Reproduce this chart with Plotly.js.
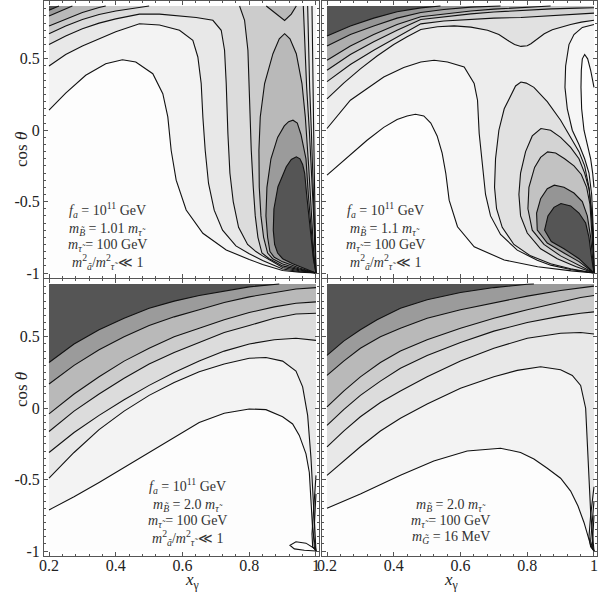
<!DOCTYPE html>
<html>
<head>
<meta charset="utf-8">
<script src="https://cdn.plot.ly/plotly-3.0.1.min.js"></script>
<style>
  html, body { margin: 0; padding: 0; background: #fff; }
  #myDiv { width: 599px; height: 592px; }
</style>
</head>
<body>
<div id="myDiv"></div>
<script>
// ---------------- plot window (x_gamma, cos theta) ----------------
var X0 = 0.2, X1 = 1.0, Y0 = -1.0, Y1 = 0.87;

// contour shading, lowest level first
var shades  = ['#fdfdfd', '#f3f3f3', '#e8e8e8', '#dcdcdc', '#cccccc', '#b9b9b9', '#9b9b9b', '#555555'];
var shades2 = ['#fdfdfd', '#f6f6f6', '#ededed', '#e1e1e1', '#d3d3d3', '#c2c2c2', '#aeaeae', '#959595', '#555555'];

var xTickVals = [0.2, 0.4, 0.6, 0.8, 1];
var xTickText = ['0.2', '0.4', '0.6', '0.8', '1'];
var yTickVals = [-1, -0.5, 0, 0.5];
var yTickText = ['-1', '-0.5', '0', '0.5'];

// ---------------- top left : mB = 1.01 mstau ----------------
var p1Ax = [0.2,0.25,0.31,0.37,0.42,0.46,0.511,0.541,0.556,0.566,0.581,0.611,0.661,0.731,0.8,0.84,0.9,0.95,1];
var p1Ay = [0.14,0.26,0.385,0.466,0.494,0.478,0.396,0.256,0.093,-0.14,-0.35,-0.559,-0.722,-0.839,-0.905,-0.94,-0.982,-0.994,-1];
var p1Bx = [0.2,0.25,0.3,0.35,0.4,0.471,0.531,0.591,0.631,0.646,0.656,0.661,0.668,0.678,0.695,0.72,0.76,0.8,0.84,0.9,0.95,1];
var p1By = [0.45,0.53,0.59,0.64,0.69,0.746,0.737,0.70,0.63,0.513,0.327,0.093,-0.14,-0.373,-0.56,-0.7,-0.81,-0.865,-0.912,-0.972,-0.989,-1];
var p1Cx = [0.2,0.25,0.3,0.35,0.4,0.471,0.531,0.591,0.641,0.691,0.716,0.726,0.731,0.736,0.742,0.752,0.768,0.795,0.82,0.84,0.9,0.95,1];
var p1Cy = [0.6,0.66,0.71,0.75,0.78,0.813,0.813,0.80,0.79,0.77,0.70,0.56,0.327,-0.023,-0.3,-0.5,-0.68,-0.8,-0.85,-0.88,-0.962,-0.984,-1];
var p1DLx = [0.2,0.25,0.3,0.35,0.4,0.45,0.5];
var p1DLy = [0.676,0.73,0.775,0.81,0.835,0.855,0.87];
var p1DRx = [0.771,0.786,0.796,0.801,0.806,0.812,0.818,0.826,0.838,0.86,0.9,0.95,1];
var p1DRy = [0.87,0.77,0.56,0.21,-0.14,-0.4,-0.6,-0.75,-0.86,-0.9,-0.95,-0.978,-1];
var p1ELx = [0.2,0.25,0.3,0.35,0.37];
var p1ELy = [0.73,0.78,0.825,0.86,0.87];
var p1Vx = [0.851,0.881,0.906,0.926,0.941];
var p1Vy = [0.87,0.813,0.769,0.813,0.87];
var p1Lensx = [1,0.95,0.9,0.87,0.855,0.843,0.835,0.83,0.829,0.833,0.846,0.871,0.89,0.906,0.922,0.941,0.958,0.968,0.978,0.987,0.993,1];
var p1Lensy = [-1,-0.972,-0.937,-0.9,-0.86,-0.75,-0.6,-0.4,-0.14,0.093,0.327,0.536,0.64,0.676,0.64,0.536,0.327,0.093,-0.25,-0.6,-0.85,-1];
var p1FLx = [0.2,0.23,0.27];
var p1FLy = [0.8,0.83,0.87];
var p1Fbx = [1,0.95,0.9,0.875,0.862,0.855,0.85,0.853,0.865,0.885,0.905,0.918,0.931,0.944,0.955,0.97,0.977,0.985,0.993,1];
var p1Fby = [-1,-0.965,-0.922,-0.89,-0.85,-0.75,-0.6,-0.4,-0.2,-0.05,0.03,0.06,0.07,0.05,-0.03,-0.2,-0.45,-0.7,-0.9,-1];
var p1GLx = [0.2,0.215,0.23];
var p1GLy = [0.84,0.855,0.87];
var p1Gbx = [1,0.95,0.93,0.9,0.885,0.876,0.872,0.874,0.886,0.911,0.926,0.941,0.952,0.96,0.966,0.972,0.978,0.985,0.992,1];
var p1Gby = [-1,-0.955,-0.935,-0.9,-0.86,-0.8,-0.7,-0.55,-0.396,-0.256,-0.205,-0.186,-0.2,-0.24,-0.3,-0.45,-0.6,-0.75,-0.9,-1];
var p1Ny  = [0.87,0.6,0.3,0.0,-0.3,-0.6,-0.85,-1];
var p1N1x = [0.962,0.966,0.972,0.98,0.987,0.993,0.997,1];
var p1N2x = [0.975,0.977,0.981,0.986,0.991,0.995,0.998,1];
var p1N3x = [0.988,0.989,0.991,0.993,0.995,0.997,0.999,1];

// ---------------- top right : mB = 1.1 mstau ----------------
var p2Ax = [0.2,0.26,0.32,0.37,0.41,0.44,0.465,0.49,0.511,0.53,0.545,0.556,0.566,0.591,0.641,0.731,0.831,0.932,1];
var p2Ay = [-0.315,-0.19,-0.07,0.02,0.075,0.1,0.112,0.1,0.05,-0.04,-0.16,-0.303,-0.49,-0.676,-0.816,-0.909,-0.956,-0.985,-1];
var p2Bx = [0.2,0.27,0.37,0.43,0.481,0.521,0.561,0.611,0.641,0.651,0.656,0.666,0.675,0.69,0.72,0.77,0.83,0.87,0.93,1];
var p2By = [0.012,0.21,0.373,0.44,0.478,0.49,0.478,0.443,0.327,0.21,-0.023,-0.257,-0.45,-0.6,-0.73,-0.84,-0.91,-0.945,-0.975,-1];
var p2Cx = [0.2,0.25,0.3,0.35,0.4,0.44,0.481,0.531,0.581,0.631,0.681,0.715,0.741,0.762,0.781,0.8,0.811,0.83,0.851,0.875,0.901,0.93,0.962,1];
var p2Cy = [0.22,0.33,0.43,0.52,0.6,0.655,0.705,0.725,0.731,0.722,0.70,0.67,0.63,0.6,0.587,0.592,0.606,0.64,0.676,0.703,0.722,0.74,0.757,0.77];
var p2Tx = [0.2,0.27,0.34,0.41,0.481,0.55,0.631,0.7,0.781,0.85,0.92,1];
var p2Dy = [0.34,0.46,0.56,0.65,0.745,0.765,0.778,0.785,0.79,0.8,0.81,0.82];
var p2Ex = [0.2,0.27,0.34,0.41,0.481,0.55,0.631,0.7,0.781,0.872,0.95,1];
var p2Ey = [0.42,0.53,0.62,0.70,0.775,0.795,0.815,0.828,0.839,0.85,0.855,0.858];
var p2Fx = [0.2,0.27,0.34,0.41,0.481,0.55,0.631,0.7,0.781,0.87];
var p2Fy = [0.49,0.59,0.67,0.74,0.795,0.815,0.835,0.848,0.86,0.87];
var p2Gx = [0.2,0.27,0.34,0.41,0.481,0.55,0.631,0.72];
var p2Gy = [0.59,0.67,0.73,0.785,0.825,0.845,0.862,0.87];
var p2Hx = [0.2,0.27,0.34,0.41,0.481,0.54];
var p2Hy = [0.66,0.73,0.785,0.83,0.857,0.87];
var p2Ox = [1,0.965,0.94,0.925,0.915,0.913,0.92,0.935,0.955,0.972,0.985,0.993,0.998,1];
var p2Oy = [0.74,0.72,0.67,0.6,0.45,0.3,0.15,0.0,-0.1,-0.2,-0.3,-0.45,-0.7,-1];
var p2Ix = [1,0.99,0.981,0.972,0.965,0.962,0.961,0.963,0.97,0.98,0.99,0.996,1];
var p2Iy = [0.3,0.42,0.5,0.53,0.5,0.42,0.3,0.15,0.0,-0.1,-0.2,-0.3,-0.4];
var p2K1x = [1,0.93,0.87,0.81,0.76,0.725,0.708,0.702,0.705,0.715,0.731,0.751,0.765,0.781,0.797,0.82,0.86,0.9,0.93,0.955,0.972,0.985,0.993,0.998,1];
var p2K1y = [-1,-0.97,-0.935,-0.88,-0.8,-0.68,-0.55,-0.4,-0.2,0.0,0.15,0.25,0.31,0.338,0.33,0.3,0.2,0.07,-0.05,-0.15,-0.25,-0.4,-0.6,-0.8,-1];
var p2K2x = [1,0.945,0.89,0.84,0.8,0.78,0.775,0.78,0.795,0.815,0.841,0.87,0.9,0.93,0.955,0.972,0.986,0.994,0.998,1];
var p2K2y = [-1,-0.955,-0.9,-0.83,-0.72,-0.6,-0.45,-0.3,-0.15,-0.04,0.012,0.0,-0.05,-0.12,-0.2,-0.3,-0.42,-0.6,-0.8,-1];
var p2K3x = [1,0.95,0.9,0.85,0.815,0.802,0.805,0.822,0.84,0.861,0.885,0.912,0.94,0.962,0.978,0.988,0.994,0.998,1];
var p2K3y = [-1,-0.94,-0.88,-0.8,-0.7,-0.55,-0.4,-0.26,-0.19,-0.152,-0.16,-0.2,-0.25,-0.31,-0.4,-0.52,-0.7,-0.88,-1];
var p2K4x = [1,0.955,0.91,0.86,0.83,0.828,0.84,0.86,0.881,0.91,0.94,0.965,0.98,0.99,0.996,1];
var p2K4y = [-1,-0.92,-0.86,-0.79,-0.7,-0.58,-0.48,-0.41,-0.385,-0.4,-0.44,-0.5,-0.6,-0.75,-0.9,-1];
var p2K5x = [1,0.955,0.91,0.872,0.852,0.862,0.88,0.901,0.93,0.955,0.975,0.985,0.992,1];
var p2K5y = [-1,-0.9,-0.83,-0.78,-0.7,-0.6,-0.54,-0.513,-0.53,-0.58,-0.65,-0.75,-0.88,-1];

// ---------------- bottom left : mB = 2.0 mstau ----------------
var p3x  = [0.2,0.275,0.35,0.425,0.5,0.575,0.65,0.725,0.8,0.875,0.94,1];
var p3Ax = [0.2,0.275,0.35,0.425,0.5,0.575,0.65,0.725,0.8,0.85,0.9,0.93,0.95,0.97,0.98,0.985,0.99,1];
var p3Ay = [-0.712,-0.62,-0.52,-0.415,-0.31,-0.2,-0.1,-0.035,-0.005,-0.01,-0.06,-0.11,-0.19,-0.32,-0.45,-0.65,-0.85,-1];
var p3Bx = [0.2,0.275,0.35,0.425,0.5,0.575,0.65,0.725,0.8,0.85,0.9,0.94,0.96,0.975,0.985,0.992,1];
var p3By = [-0.49,-0.31,-0.15,-0.02,0.09,0.18,0.255,0.31,0.35,0.355,0.33,0.26,0.15,-0.05,-0.35,-0.7,-1];
var p3Cy = [-0.31,-0.17,-0.05,0.06,0.16,0.25,0.33,0.4,0.45,0.48,0.49,0.475];
var p3Dy = [-0.163,-0.02,0.1,0.21,0.31,0.39,0.46,0.53,0.58,0.63,0.66,0.665];
var p3Ey = [-0.04,0.1,0.22,0.33,0.42,0.5,0.56,0.62,0.67,0.71,0.735,0.745];
var p3Fy = [0.17,0.3,0.41,0.5,0.58,0.64,0.69,0.74,0.78,0.81,0.835,0.845];
var p3Gx = [0.2,0.275,0.35,0.425,0.5,0.575,0.65,0.725,0.8,0.89];
var p3Gy = [0.32,0.45,0.55,0.63,0.7,0.75,0.79,0.82,0.85,0.87];
var p3Loopx = [1,0.97,0.94,0.922,0.935,0.965,1];
var p3Loopy = [-0.99,-0.945,-0.935,-0.96,-0.985,-0.995,-1];
var p3Fan1x = [1,0.993,0.988,0.99,1];
var p3Fan1y = [-0.47,-0.7,-0.88,-0.97,-1];
var p3Fan2x = [1,0.996,0.993,0.995,1];
var p3Fan2y = [-0.6,-0.78,-0.9,-0.97,-1];

// ---------------- bottom right : gravitino, mG = 16 MeV ----------------
var p4x  = [0.2,0.25,0.3,0.36,0.42,0.5,0.6,0.7,0.8,0.9,0.96,1];
var p4Ax = [0.2,0.3,0.42,0.52,0.62,0.72,0.78,0.82,0.86,0.9,0.93,0.952,0.97,0.982,0.99,1];
var p4Ay = [-0.7,-0.6,-0.47,-0.37,-0.3,-0.28,-0.31,-0.356,-0.42,-0.49,-0.58,-0.685,-0.8,-0.9,-0.96,-1];
var p4Bx = [0.2,0.25,0.3,0.36,0.42,0.5,0.6,0.7,0.77,0.84,0.9,0.935,0.96,0.975,0.982,0.99,1];
var p4By = [-0.47,-0.37,-0.27,-0.16,-0.07,0.03,0.14,0.22,0.265,0.29,0.27,0.23,0.16,0.0,-0.38,-0.73,-1];
var p4Cy = [-0.27,-0.16,-0.06,0.04,0.12,0.22,0.33,0.42,0.49,0.525,0.53,0.52];
var p4Dy = [-0.12,-0.01,0.09,0.19,0.28,0.37,0.46,0.54,0.6,0.645,0.665,0.675];
var p4Ey = [0.01,0.12,0.22,0.32,0.4,0.48,0.56,0.63,0.69,0.745,0.775,0.79];
var p4Fy = [0.23,0.33,0.42,0.5,0.56,0.63,0.69,0.74,0.785,0.825,0.845,0.855];
var p4Gx = [0.2,0.25,0.3,0.35,0.42,0.5,0.6,0.7,0.8,0.82];
var p4Gy = [0.37,0.47,0.55,0.62,0.70,0.76,0.81,0.845,0.868,0.87];
var p4Fan1x = [1,0.99,0.985,0.99,1];
var p4Fan1y = [-0.55,-0.75,-0.9,-0.97,-1];
var p4Fan2x = [1,0.994,0.99,0.995,1];
var p4Fan2y = [-0.65,-0.82,-0.93,-0.98,-1];
var p4Fan3x = [1,0.997,0.995,1];
var p4Fan3y = [-0.75,-0.88,-0.96,-1];

// ---------------- parameter labels ----------------
var txt1 = ['<i>f<sub>a</sub></i> = 10<sup>11</sup> GeV', '<i>m</i><sub><i>B̃</i></sub> = 1.01 <i>m</i><sub><i>τ̃</i></sub>', '<i>m</i><sub><i>τ̃</i></sub> = 100 GeV', '<i>m</i><sup>2</sup><sub><i>ã</i></sub>/<i>m</i><sup>2</sup><sub><i>τ̃</i></sub> ≪ 1'];
var txt2 = ['<i>f<sub>a</sub></i> = 10<sup>11</sup> GeV', '<i>m</i><sub><i>B̃</i></sub> = 1.1 <i>m</i><sub><i>τ̃</i></sub>', '<i>m</i><sub><i>τ̃</i></sub> = 100 GeV', '<i>m</i><sup>2</sup><sub><i>ã</i></sub>/<i>m</i><sup>2</sup><sub><i>τ̃</i></sub> ≪ 1'];
var txt3 = ['<i>f<sub>a</sub></i> = 10<sup>11</sup> GeV', '<i>m</i><sub><i>B̃</i></sub> = 2.0 <i>m</i><sub><i>τ̃</i></sub>', '<i>m</i><sub><i>τ̃</i></sub> = 100 GeV', '<i>m</i><sup>2</sup><sub><i>ã</i></sub>/<i>m</i><sup>2</sup><sub><i>τ̃</i></sub> ≪ 1'];
var txt4 = ['<i>m</i><sub><i>B̃</i></sub> = 2.0 <i>m</i><sub><i>τ̃</i></sub>', '<i>m</i><sub><i>τ̃</i></sub> = 100 GeV', '<i>m</i><sub><i>G̃</i></sub> = 16 MeV'];

// ---------------- build filled regions and contour lines ----------------
function corner(c) {
  return [c[1] === 'L' ? X0 : X1, c[0] === 'T' ? Y1 : Y0];
}

function region(parts) {
  var xs = [], ys = [];
  parts.forEach(function (p) {
    if (typeof p === 'string') {
      var c = corner(p);
      xs.push(c[0]); ys.push(c[1]);
      return;
    }
    var cx = p[0].slice(), cy = p[1].slice();
    if (p[2]) { cx.reverse(); cy.reverse(); }
    xs = xs.concat(cx); ys = ys.concat(cy);
  });
  return {x: xs, y: ys};
}

var rect = ['TL', 'TR', 'BR', 'BL'];

var panels = [
  {ax: '', pal: shades, fills: [
      [0, rect],
      [1, [[p1Ax, p1Ay], 'TR', 'TL']],
      [2, [[p1Bx, p1By], [p1N3x, p1Ny, true], 'TL']],
      [3, [[p1Cx, p1Cy], [p1N2x, p1Ny, true], 'TL']],
      [4, [[p1DLx, p1DLy], 'TL']],
      [4, [[p1DRx, p1DRy], [p1N1x, p1Ny, true]]],
      [5, [[p1ELx, p1ELy], 'TL']],
      [5, [[p1Vx, p1Vy]]],
      [5, [[p1Lensx, p1Lensy]]],
      [6, [[p1FLx, p1FLy], 'TL']],
      [6, [[p1Fbx, p1Fby]]],
      [7, [[p1GLx, p1GLy], 'TL']],
      [7, [[p1Gbx, p1Gby]]]
    ],
    lines: [[p1Ax, p1Ay], [p1Bx, p1By], [p1Cx, p1Cy], [p1DLx, p1DLy], [p1DRx, p1DRy],
            [p1ELx, p1ELy], [p1Vx, p1Vy], [p1Lensx, p1Lensy], [p1FLx, p1FLy], [p1Fbx, p1Fby],
            [p1GLx, p1GLy], [p1Gbx, p1Gby], [p1N1x, p1Ny], [p1N2x, p1Ny], [p1N3x, p1Ny]],
    text: txt1, tx: 0.375, ty: [-0.559, -0.692, -0.804, -0.923]},
  {ax: '2', pal: shades2, fills: [
      [0, rect],
      [1, [[p2Ax, p2Ay], [p2Ix, p2Iy, true], 'TR', 'TL']],
      [2, [[p2Bx, p2By], [p2Ox, p2Oy, true], 'TR', 'TL']],
      [3, [[p2Cx, p2Cy], 'TR', 'TL']],
      [3, [[p2K1x, p2K1y]]],
      [4, [[p2Tx, p2Dy], 'TR', 'TL']],
      [4, [[p2K2x, p2K2y]]],
      [5, [[p2Ex, p2Ey], 'TR', 'TL']],
      [5, [[p2K3x, p2K3y]]],
      [6, [[p2Fx, p2Fy], 'TL']],
      [7, [[p2Gx, p2Gy], 'TL']],
      [7, [[p2K4x, p2K4y]]],
      [8, [[p2Hx, p2Hy], 'TL']],
      [8, [[p2K5x, p2K5y]]]
    ],
    lines: [[p2Ax, p2Ay], [p2Bx, p2By], [p2Cx, p2Cy], [p2Tx, p2Dy], [p2Ex, p2Ey], [p2Fx, p2Fy],
            [p2Gx, p2Gy], [p2Hx, p2Hy], [p2Ox, p2Oy], [p2Ix, p2Iy], [p2K1x, p2K1y], [p2K2x, p2K2y],
            [p2K3x, p2K3y], [p2K4x, p2K4y], [p2K5x, p2K5y]],
    text: txt2, tx: 0.375, ty: [-0.559, -0.692, -0.804, -0.923]},
  {ax: '3', pal: shades, fills: [
      [0, rect],
      [1, [[p3Ax, p3Ay], 'TR', 'TL']],
      [2, [[p3Bx, p3By], 'TR', 'TL']],
      [3, [[p3x, p3Cy], 'TR', 'TL']],
      [4, [[p3x, p3Dy], 'TR', 'TL']],
      [5, [[p3x, p3Ey], 'TR', 'TL']],
      [6, [[p3x, p3Fy], 'TR', 'TL']],
      [7, [[p3Gx, p3Gy], 'TL']]
    ],
    lines: [[p3Ax, p3Ay], [p3Bx, p3By], [p3x, p3Cy], [p3x, p3Dy], [p3x, p3Ey], [p3x, p3Fy],
            [p3Gx, p3Gy], [p3Loopx, p3Loopy], [p3Fan1x, p3Fan1y], [p3Fan2x, p3Fan2y]],
    text: txt3, tx: 0.615, ty: [-0.544, -0.684, -0.79, -0.907]},
  {ax: '4', pal: shades, fills: [
      [0, rect],
      [1, [[p4Ax, p4Ay], 'TR', 'TL']],
      [2, [[p4Bx, p4By], 'TR', 'TL']],
      [3, [[p4x, p4Cy], 'TR', 'TL']],
      [4, [[p4x, p4Dy], 'TR', 'TL']],
      [5, [[p4x, p4Ey], 'TR', 'TL']],
      [6, [[p4x, p4Fy], 'TR', 'TL']],
      [7, [[p4Gx, p4Gy], 'TL']]
    ],
    lines: [[p4Ax, p4Ay], [p4Bx, p4By], [p4x, p4Cy], [p4x, p4Dy], [p4x, p4Ey], [p4x, p4Fy],
            [p4Gx, p4Gy], [p4Fan1x, p4Fan1y], [p4Fan2x, p4Fan2y], [p4Fan3x, p4Fan3y]],
    text: txt4, tx: 0.571, ty: [-0.684, -0.79, -0.907]}
];

var SERIF = '"Liberation Serif", "DejaVu Serif", serif';
var data = [];
var annotations = [];

panels.forEach(function (p) {
  var xa = 'x' + p.ax, ya = 'y' + p.ax;
  p.fills.forEach(function (f) {
    var r = region(f[1]);
    data.push({type: 'scatter', mode: 'lines', x: r.x, y: r.y, xaxis: xa, yaxis: ya,
               fill: 'toself', fillcolor: p.pal[f[0]], line: {width: 0},
               hoverinfo: 'skip', showlegend: false});
  });
  p.lines.forEach(function (c) {
    data.push({type: 'scatter', mode: 'lines', x: c[0], y: c[1], xaxis: xa, yaxis: ya,
               line: {color: '#111', width: 1.1}, hoverinfo: 'skip', showlegend: false});
  });
  p.text.forEach(function (t, i) {
    annotations.push({xref: xa, yref: ya, x: p.tx, y: p.ty[i], text: t, showarrow: false,
                      xanchor: 'center', yanchor: 'middle',
                      font: {family: SERIF, size: 14, color: '#333'}});
  });
});

// axis titles
var titleFont = {family: SERIF, size: 17, color: '#222'};
annotations.push({xref: 'paper', yref: 'paper', x: 10 / 599, y: 0.7804, text: 'cos <i>θ</i>',
                  textangle: -90, showarrow: false, font: titleFont});
annotations.push({xref: 'paper', yref: 'paper', x: 10 / 599, y: 0.309, text: 'cos <i>θ</i>',
                  textangle: -90, showarrow: false, font: titleFont});
annotations.push({xref: 'paper', yref: 'paper', x: 183 / 599, y: 0.019, text: '<i>x</i><sub>γ</sub>',
                  showarrow: false, yanchor: 'middle', font: titleFont});
annotations.push({xref: 'paper', yref: 'paper', x: 460 / 599, y: 0.019, text: '<i>x</i><sub>γ</sub>',
                  showarrow: false, yanchor: 'middle', font: titleFont});

var tickFont = {family: SERIF, size: 16, color: '#222'};

function xAxis(dom, anchor, labels) {
  return {domain: dom, anchor: anchor, range: [0.185, 1.009],
          showline: true, mirror: 'allticks', linecolor: '#555', linewidth: 1,
          ticks: 'inside', ticklen: 4, tickcolor: '#555',
          tickmode: 'array', tickvals: xTickVals, ticktext: xTickText,
          showticklabels: labels, tickfont: tickFont, ticklabelstandoff: -5,
          minor: {ticks: 'inside', ticklen: 2, tickcolor: '#555', tick0: 0.2, dtick: 0.04, showgrid: false},
          showgrid: false, zeroline: false, fixedrange: true};
}
function yAxis(dom, anchor, labels) {
  return {domain: dom, anchor: anchor, range: [-1.035, 0.905],
          showline: true, mirror: 'allticks', linecolor: '#555', linewidth: 1,
          ticks: 'inside', ticklen: 4, tickcolor: '#555',
          tickmode: 'array', tickvals: yTickVals, ticktext: yTickText,
          showticklabels: labels, tickfont: tickFont,
          minor: {ticks: 'inside', ticklen: 2, tickcolor: '#555', tick0: 0, dtick: 0.05, showgrid: false},
          showgrid: false, zeroline: false, fixedrange: true};
}

var colL = [0.07346, 0.53255], colR = [0.53756, 0.99666];
var rowT = [0.5304, 0.9983], rowB = [0.0608, 0.5287];

var layout = {
  width: 599, height: 592,
  margin: {l: 0, r: 0, t: 0, b: 0},
  paper_bgcolor: '#fff', plot_bgcolor: '#fff',
  showlegend: false,
  xaxis: xAxis(colL, 'y', false),  yaxis: yAxis(rowT, 'x', true),
  xaxis2: xAxis(colR, 'y2', false), yaxis2: yAxis(rowT, 'x2', false),
  xaxis3: xAxis(colL, 'y3', true),  yaxis3: yAxis(rowB, 'x3', true),
  xaxis4: xAxis(colR, 'y4', true),  yaxis4: yAxis(rowB, 'x4', false),
  annotations: annotations
};

Plotly.newPlot('myDiv', data, layout, {staticPlot: true});
</script>
</body>
</html>
